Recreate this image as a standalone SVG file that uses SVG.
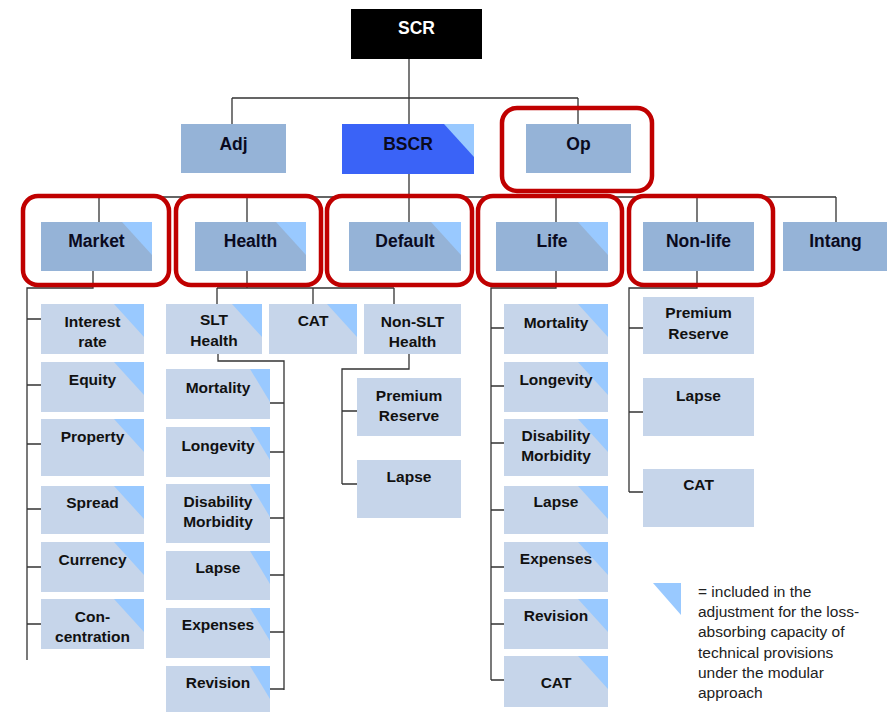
<svg xmlns="http://www.w3.org/2000/svg" xmlns:xlink="http://www.w3.org/1999/xlink" width="887" height="712" viewBox="0 0 887 712">
<style>
.l{stroke:#333;stroke-width:1.3;fill:none}
.b1{fill:#95b3d7}
.b2{fill:#c6d5ea}
.tri{fill:#99c9ff}
.red{fill:none;stroke:#c00000;stroke-width:4.5}
.t{font-family:"Liberation Sans",Arial,sans-serif;font-weight:bold;font-size:15.5px;fill:#111;text-anchor:middle}
.T{font-family:"Liberation Sans",Arial,sans-serif;font-weight:bold;font-size:17.5px;fill:#0a0a1e;text-anchor:middle}
.g{font-family:"Liberation Sans",Arial,sans-serif;font-size:15.5px;fill:#222}
</style>
<defs>
<path id="tri" d="M-30,0H0V33Z" class="tri"/>
<path id="tri2" d="M-20,0H0V33Z" class="tri"/>
</defs>
<rect width="887" height="712" fill="#fff"/>
<g id="connectors">
<path class="l" d="M409,59V98M232,98H578M232,98V124M578,98V124M409,98V124"/>
<path class="l" d="M409,174V197M99,197H836M99,197V222M247,197V222M409,197V222M556,197V222M697,197V222M836,197V222"/>
<path class="l" d="M93,271V288H27V660M27,319H41M27,385H41M27,444H41M27,509H41M27,567H41M27,624H41"/>
<path class="l" d="M247,271V288M217,288H394M217,288V304M313,288V304M394,288V304"/>
<path class="l" d="M218,354V361H284V690M270,403H284M270,452H284M270,518H284M270,575H284M270,632H284M270,689H284"/>
<path class="l" d="M409,354V369H342V484M342,411H357M342,484H357"/>
<path class="l" d="M556,271V288H491V680M491,328H504M491,386H504M491,443H504M491,510H504M491,567H504M491,624H504M491,680H504"/>
<path class="l" d="M697,271V288H629V492M629,328H643M629,412H643M629,492H643"/>
</g>
<g id="scr"><rect x="351" y="9" width="131" height="50" fill="#000"/><text class="T" x="416.5" y="34" style="fill:#fff">SCR</text></g>
<g id="adj"><rect class="b1" x="181" y="124" width="105" height="49"/><text class="T" x="233.5" y="150">Adj</text></g>
<g id="bscr"><rect x="342" y="124" width="132" height="50" fill="#3a63f7"/><path d="M444,124H474V157Z" class="tri"/><text class="T" x="408" y="150">BSCR</text></g>
<g id="op"><rect class="b1" x="526" y="124" width="105" height="49"/><text class="T" x="578.5" y="150">Op</text></g>
<g id="market"><rect class="b1" x="41" y="222" width="111" height="49"/><use xlink:href="#tri" x="152" y="222"/><text class="T" x="96.5" y="247">Market</text></g>
<g id="health"><rect class="b1" x="195" y="222" width="111" height="49"/><use xlink:href="#tri" x="306" y="222"/><text class="T" x="250.5" y="247">Health</text></g>
<g id="default"><rect class="b1" x="349" y="222" width="112" height="49"/><use xlink:href="#tri" x="461" y="222"/><text class="T" x="405" y="247">Default</text></g>
<g id="life"><rect class="b1" x="496" y="222" width="112" height="49"/><use xlink:href="#tri" x="608" y="222"/><text class="T" x="552" y="247">Life</text></g>
<g id="nonlife"><rect class="b1" x="643" y="222" width="111" height="49"/><text class="T" x="698.5" y="247">Non-life</text></g>
<g id="intang"><rect class="b1" x="783" y="222" width="105" height="49"/><text class="T" x="835.5" y="247">Intang</text></g>

<g id="m-interest"><rect class="b2" x="41" y="304" width="103" height="50"/><use xlink:href="#tri" x="144" y="304"/><text class="t" x="92.5" y="327">Interest<tspan x="92.5" dy="20">rate</tspan></text></g>
<g id="m-equity"><rect class="b2" x="41" y="362" width="103" height="50"/><use xlink:href="#tri" x="144" y="362"/><text class="t" x="92.5" y="385">Equity</text></g>
<g id="m-property"><rect class="b2" x="41" y="419" width="103" height="57"/><use xlink:href="#tri" x="144" y="419"/><text class="t" x="92.5" y="442">Property</text></g>
<g id="m-spread"><rect class="b2" x="41" y="486" width="103" height="48"/><use xlink:href="#tri" x="144" y="486"/><text class="t" x="92.5" y="508">Spread</text></g>
<g id="m-currency"><rect class="b2" x="41" y="542" width="103" height="50"/><use xlink:href="#tri" x="144" y="542"/><text class="t" x="92.5" y="565">Currency</text></g>
<g id="m-conc"><rect class="b2" x="41" y="599" width="103" height="50"/><use xlink:href="#tri" x="144" y="599"/><text class="t" x="92.5" y="622">Con-<tspan x="92.5" dy="20">centration</tspan></text></g>

<g id="h-slt"><rect class="b2" x="166" y="304" width="96" height="50"/><use xlink:href="#tri" x="262" y="304"/><text class="t" x="214" y="325">SLT<tspan x="214" dy="21">Health</tspan></text></g>
<g id="h-cat"><rect class="b2" x="269" y="304" width="88" height="50"/><use xlink:href="#tri" x="357" y="304"/><text class="t" x="313" y="326">CAT</text></g>
<g id="h-nonslt"><rect class="b2" x="364" y="304" width="97" height="50"/><text class="t" x="412.5" y="327">Non-SLT<tspan x="412.5" dy="20">Health</tspan></text></g>

<g id="s-mortality"><rect class="b2" x="166" y="369" width="104" height="50"/><use xlink:href="#tri2" x="270" y="369"/><text class="t" x="218" y="393">Mortality</text></g>
<g id="s-longevity"><rect class="b2" x="166" y="427" width="104" height="50"/><use xlink:href="#tri2" x="270" y="427"/><text class="t" x="218" y="451">Longevity</text></g>
<g id="s-disability"><rect class="b2" x="166" y="484" width="104" height="59"/><use xlink:href="#tri2" x="270" y="484"/><text class="t" x="218" y="507">Disability<tspan x="218" dy="20">Morbidity</tspan></text></g>
<g id="s-lapse"><rect class="b2" x="166" y="551" width="104" height="49"/><use xlink:href="#tri2" x="270" y="551"/><text class="t" x="218" y="573">Lapse</text></g>
<g id="s-expenses"><rect class="b2" x="166" y="608" width="104" height="50"/><use xlink:href="#tri2" x="270" y="608"/><text class="t" x="218" y="630">Expenses</text></g>
<g id="s-revision"><rect class="b2" x="166" y="666" width="104" height="49"/><use xlink:href="#tri2" x="270" y="666"/><text class="t" x="218" y="688">Revision</text></g>

<g id="n-premium"><rect class="b2" x="357" y="378" width="104" height="58"/><text class="t" x="409" y="401">Premium<tspan x="409" dy="20">Reserve</tspan></text></g>
<g id="n-lapse"><rect class="b2" x="357" y="460" width="104" height="58"/><text class="t" x="409" y="482">Lapse</text></g>

<g id="l-mortality"><rect class="b2" x="504" y="304" width="104" height="50"/><use xlink:href="#tri" x="608" y="304"/><text class="t" x="556" y="328">Mortality</text></g>
<g id="l-longevity"><rect class="b2" x="504" y="362" width="104" height="50"/><use xlink:href="#tri" x="608" y="362"/><text class="t" x="556" y="385">Longevity</text></g>
<g id="l-disability"><rect class="b2" x="504" y="419" width="104" height="57"/><use xlink:href="#tri" x="608" y="419"/><text class="t" x="556" y="441">Disability<tspan x="556" dy="20">Morbidity</tspan></text></g>
<g id="l-lapse"><rect class="b2" x="504" y="486" width="104" height="48"/><use xlink:href="#tri" x="608" y="486"/><text class="t" x="556" y="507">Lapse</text></g>
<g id="l-expenses"><rect class="b2" x="504" y="542" width="104" height="50"/><use xlink:href="#tri" x="608" y="542"/><text class="t" x="556" y="564">Expenses</text></g>
<g id="l-revision"><rect class="b2" x="504" y="599" width="104" height="50"/><use xlink:href="#tri" x="608" y="599"/><text class="t" x="556" y="621">Revision</text></g>
<g id="l-cat"><rect class="b2" x="504" y="656" width="104" height="51"/><use xlink:href="#tri" x="608" y="656"/><text class="t" x="556" y="688">CAT</text></g>

<g id="nl-premium"><rect class="b2" x="643" y="297" width="111" height="57"/><text class="t" x="698.5" y="318">Premium<tspan x="698.5" dy="21">Reserve</tspan></text></g>
<g id="nl-lapse"><rect class="b2" x="643" y="378" width="111" height="58"/><text class="t" x="698.5" y="401">Lapse</text></g>
<g id="nl-cat"><rect class="b2" x="643" y="469" width="111" height="58"/><text class="t" x="698.5" y="490">CAT</text></g>

<g id="highlights">
<rect class="red" x="502" y="108" width="150" height="83" rx="15"/>
<rect class="red" x="23" y="196" width="146" height="89" rx="15"/>
<rect class="red" x="176" y="196" width="145" height="89" rx="15"/>
<rect class="red" x="327" y="196" width="145" height="89" rx="15"/>
<rect class="red" x="478" y="196" width="144" height="89" rx="15"/>
<rect class="red" x="629" y="196" width="144" height="89" rx="15"/>
</g>

<g id="legend">
<path class="tri" d="M653,583H681V615Z"/>
<text class="g" x="698" y="597">= included in the<tspan x="698" dy="20.2">adjustment for the loss-</tspan><tspan x="698" dy="20.2">absorbing capacity of</tspan><tspan x="698" dy="20.2">technical provisions</tspan><tspan x="698" dy="20.2">under the modular</tspan><tspan x="698" dy="20.2">approach</tspan></text>
</g>
</svg>
